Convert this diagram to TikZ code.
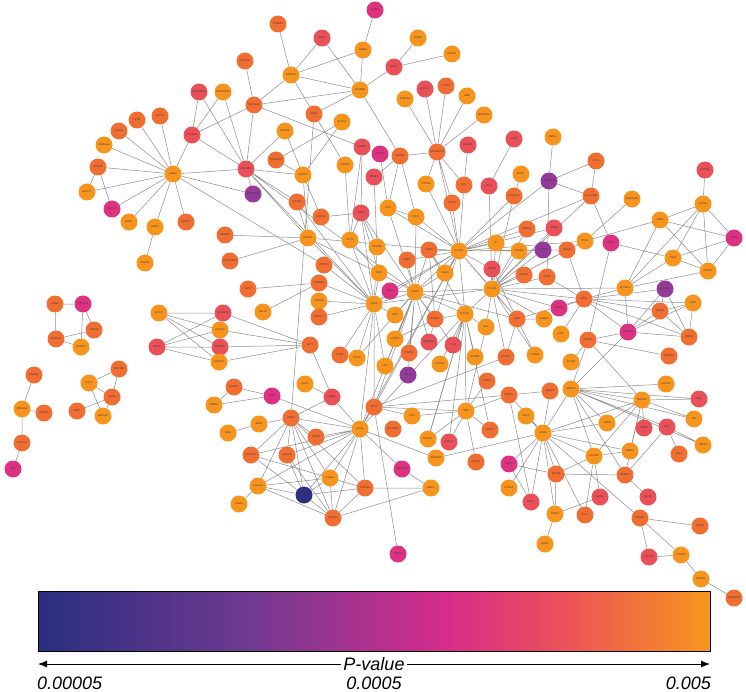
\documentclass[tikz,border=0pt]{standalone}
\usepackage{fontspec}
\setmainfont{Liberation Sans}
\usetikzlibrary{arrows.meta, backgrounds}
\definecolor{pvorange}{RGB}{247, 148, 30}
\definecolor{pvamber}{RGB}{241, 110, 50}
\definecolor{pvred}{RGB}{233, 80, 88}
\definecolor{pvpink}{RGB}{221, 50, 128}
\definecolor{pvpurple}{RGB}{148, 58, 152}
\definecolor{pvnavy}{RGB}{44, 48, 128}
\definecolor{barnavy}{RGB}{42, 46, 128}
\definecolor{barviolet}{RGB}{112, 58, 145}
\definecolor{barmagenta}{RGB}{214, 44, 140}
\definecolor{barcoral}{RGB}{236, 82, 88}
\definecolor{barorange}{RGB}{247, 150, 30}
\definecolor{edgegray}{RGB}{140, 140, 140}
\definecolor{labelgray}{RGB}{55, 55, 55}

\begin{document}
\begin{tikzpicture}[x=1pt, y=-1pt,
    gene/.style={circle, minimum size=17pt, inner sep=0pt, text=labelgray, font=\fontsize{2.6}{3}\selectfont},
    edge/.style={draw=edgegray, line width=0.5pt}]
    \useasboundingbox (0,0) rectangle (746,692);

    % Glutamate receptors and calcium channels
    \node[gene, fill=pvpink] (grid2) at (375,10) {GRID2};
    \node[gene, fill=pvamber] (dlgap1) at (278,24) {DLGAP1};
    \node[gene, fill=pvred] (grik4) at (322,38) {GRIK4};
    \node[gene, fill=pvorange] (gria4) at (363,50) {GRIA4};
    \node[gene, fill=pvamber] (abcc8) at (245,61) {ABCC8};
    \node[gene, fill=pvorange] (grin2a) at (291,75) {GRIN2A};
    \node[gene, fill=pvorange] (grin2b) at (360,90) {GRIN2B};
    \node[gene, fill=pvred] (cacna2d1) at (199,92) {CACNA2D1};
    \node[gene, fill=pvorange] (cacna2d3) at (223,92) {CACNA2D3};
    \node[gene, fill=pvamber] (cacna1c) at (254,105) {CACNA1C};
    \node[gene, fill=pvamber] (dab1) at (314,114) {DAB1};
    \node[gene, fill=pvorange] (alms1) at (342,122) {ALMS1};
    \node[gene, fill=pvred] (cacnb2) at (192,135) {CACNB2};
    \node[gene, fill=pvorange] (pds5a) at (285,131) {PDS5A};
    \node[gene, fill=pvred] (robo1) at (362,147) {ROBO1};
    \node[gene, fill=pvamber] (tubgcp2) at (276,160) {TUBGCP2};
    \node[gene, fill=pvred] (ppp2r5e) at (246,169) {PPP2R5E};
    \node[gene, fill=pvorange] (clasp1) at (303,175) {CLASP1};
    \node[gene, fill=pvorange] (map1b) at (345,165) {MAP1B};
    \node[gene, fill=pvred] (arap2) at (374,177) {ARAP2};
    \node[gene, fill=pvpink] (dock1) at (380,154) {DOCK1};

    % Rho GEF group
    \node[gene, fill=pvorange] (nrgn) at (418,38) {NRGN};
    \node[gene, fill=pvorange] (prkg1) at (452,54) {PRKG1};
    \node[gene, fill=pvred] (nrg1) at (394,67) {NRG1};
    \node[gene, fill=pvred] (mcf2l) at (425,89) {MCF2L};
    \node[gene, fill=pvamber] (cyth2) at (446,86) {CYTH2};
    \node[gene, fill=pvorange] (fam13a) at (405,99) {FAM13A};
    \node[gene, fill=pvorange] (abr) at (467,96) {ABR};
    \node[gene, fill=pvorange] (arhgef3) at (484,115) {ARHGEF3};
    \node[gene, fill=pvamber] (arhgef10) at (437,152) {ARHGEF10};
    \node[gene, fill=pvamber] (ablim2) at (400,156) {ABLIM2};
    \node[gene, fill=pvred] (daam1) at (468,145) {DAAM1};
    \node[gene, fill=pvred] (stac) at (514,139) {STAC};
    \node[gene, fill=pvorange] (obsl1) at (553,137) {OBSL1};
    \node[gene, fill=pvamber] (klc1) at (596,161) {KLC1};
    \node[gene, fill=pvred] (cntn4) at (705,170) {CNTN4};
    \node[gene, fill=pvorange] (rgs7) at (521,174) {RGS7};
    \node[gene, fill=pvpurple] (hladrb1) at (549,181) {HLA-DRB1};
    \node[gene, fill=pvorange] (pitpna) at (426,184) {PITPNA};
    \node[gene, fill=pvamber] (evl) at (464,185) {EVL};
    \node[gene, fill=pvred] (lhx1) at (489,186) {LHX1};
    \node[gene, fill=pvamber] (pip5k1a) at (514,196) {PIP5K1A};
    \node[gene, fill=pvamber] (hladqb1) at (591,196) {HLA-DQB1};

    % G protein group
    \node[gene, fill=pvamber] (mc1r) at (160,116) {MC1R};
    \node[gene, fill=pvamber] (ppr3) at (137,120) {PPR3};
    \node[gene, fill=pvamber] (cxhr1) at (119,131) {CXHR1};
    \node[gene, fill=pvorange] (adra1a) at (104,145) {ADRA1A};
    \node[gene, fill=pvamber] (adcy8) at (98,167) {ADCY8};
    \node[gene, fill=pvorange] (gng4) at (173,174) {GNG4};
    \node[gene, fill=pvorange] (adcy9) at (87,192) {ADCY9};
    \node[gene, fill=pvpink] (adcy2) at (112,209) {ADCY2};
    \node[gene, fill=pvorange] (grm7) at (129,222) {GRM7};
    \node[gene, fill=pvorange] (lpar1) at (155,227) {LPAR1};
    \node[gene, fill=pvamber] (prex1) at (186,222) {PREX1};
    \node[gene, fill=pvorange] (pde1b) at (145,263) {PDE1B};
    \node[gene, fill=pvpurple] (gabrg3) at (253,194) {GABRG3};

    % Centre
    \node[gene, fill=pvamber] (pik3r1) at (297,202) {PIK3R1};
    \node[gene, fill=pvamber] (kif21b) at (321,217) {KIF21B};
    \node[gene, fill=pvred] (rgs6) at (361,213) {RGS6};
    \node[gene, fill=pvamber] (arrb1) at (225,235) {ARRB1};
    \node[gene, fill=pvorange] (rap2a) at (308,238) {RAP2A};
    \node[gene, fill=pvorange] (slit2) at (350,240) {SLIT2};
    \node[gene, fill=pvamber] (rap1gap2) at (230,261) {RAP1GAP2};
    \node[gene, fill=pvamber] (ptprd) at (324,265) {PTPRD};
    \node[gene, fill=pvorange] (dscam) at (377,247) {DSCAM};
    \node[gene, fill=pvamber] (plxna4) at (319,283) {PLXNA4};
    \node[gene, fill=pvamber] (nrp2) at (248,289) {NRP2};
    \node[gene, fill=pvorange] (plxna2) at (319,301) {PLXNA2};
    \node[gene, fill=pvorange] (celf2) at (263,312) {CELF2};
    \node[gene, fill=pvamber] (dock3) at (319,317) {DOCK3};
    \node[gene, fill=pvorange] (pak3) at (374,304) {PAK3};
    \node[gene, fill=pvorange] (top1) at (379,273) {TOP1};
    \node[gene, fill=pvamber] (ext1) at (310,345) {EXT1};
    \node[gene, fill=pvamber] (utrn) at (340,355) {UTRN};
    \node[gene, fill=pvorange] (mylk) at (357,358) {MYLK};
    \node[gene, fill=pvorange] (dcc) at (388,208) {DCC};
    \node[gene, fill=pvorange] (trio) at (416,217) {TRIO};
    \node[gene, fill=pvamber] (dlc1) at (452,203) {DLC1};
    \node[gene, fill=pvamber] (prkcq) at (527,229) {PRKCQ};
    \node[gene, fill=pvred] (dnm3) at (554,228) {DNM3};
    \node[gene, fill=pvamber] (sos2) at (429,250) {SOS2};
    \node[gene, fill=pvorange] (plcg1) at (459,251) {PLCG1};
    \node[gene, fill=pvorange] (il7) at (496,243) {IL7};
    \node[gene, fill=pvorange] (pla2g6) at (519,251) {PLA2G6};
    \node[gene, fill=pvpurple] (tyro3) at (543,250) {TYRO3};
    \node[gene, fill=pvamber] (dgkb) at (567,250) {DGKB};
    \node[gene, fill=pvamber] (abat) at (407,260) {ABAT};
    \node[gene, fill=pvorange] (nras) at (445,273) {NRAS};
    \node[gene, fill=pvred] (stat4) at (492,269) {STAT4};
    \node[gene, fill=pvamber] (rgs17) at (524,275) {RGS17};
    \node[gene, fill=pvamber] (cd19) at (547,277) {CD19};
    \node[gene, fill=pvpink] (pnk1) at (390,291) {PNK1};
    \node[gene, fill=pvorange] (stat3) at (415,292) {STAT3};
    \node[gene, fill=pvorange] (plcg2) at (492,289) {PLCG2};
    \node[gene, fill=pvorange] (sgms1) at (544,319) {SGMS1};
    \node[gene, fill=pvamber] (jak2) at (517,319) {JAK2};
    \node[gene, fill=pvorange] (fgfr1) at (465,314) {FGFR1};
    \node[gene, fill=pvamber] (rasa1) at (435,319) {RASA1};
    \node[gene, fill=pvorange] (gck) at (395,315) {GCK};
    \node[gene, fill=pvorange] (axl) at (486,327) {AXL};
    \node[gene, fill=pvorange] (nlrc5) at (395,339) {NLRC5};
    \node[gene, fill=pvred] (znf280d) at (429,342) {ZNF280D};
    \node[gene, fill=pvred] (tlk2) at (453,345) {TLK2};
    \node[gene, fill=pvamber] (pdzd2) at (409,353) {PDZD2};
    \node[gene, fill=pvorange] (epha5) at (475,357) {EPHA5};
    \node[gene, fill=pvorange] (epha3) at (440,364) {EPHA3};
    \node[gene, fill=pvamber] (runx1) at (506,357) {RUNX1};
    \node[gene, fill=pvorange] (ptpre) at (535,355) {PTPRE};
    \node[gene, fill=pvorange] (ltk) at (385,366) {LTK};
    \node[gene, fill=pvpurple] (nell2) at (408,375) {NELL2};
    \node[gene, fill=pvpink] (sash1) at (559,308) {SASH1};
    \node[gene, fill=pvorange] (usp7) at (561,334) {USP7};
    \node[gene, fill=pvorange] (auts2) at (571,362) {AUTS2};

    % Ankyrin / spectrin group
    \node[gene, fill=pvorange] (adora2b) at (632,199) {ADORA2B};
    \node[gene, fill=pvorange] (nfasc) at (703,204) {NFASC};
    \node[gene, fill=pvorange] (ank3) at (660,220) {ANK3};
    \node[gene, fill=pvorange] (itpr2) at (585,241) {ITPR2};
    \node[gene, fill=pvpink] (rps6) at (611,243) {RPS6};
    \node[gene, fill=pvpink] (sptb) at (734,238) {SPTB};
    \node[gene, fill=pvorange] (ank2) at (673,258) {ANK2};
    \node[gene, fill=pvorange] (scn7a) at (708,271) {SCN7A};
    \node[gene, fill=pvorange] (sptbn1) at (625,288) {SPTBN1};
    \node[gene, fill=pvpurple] (iqgap1) at (665,289) {IQGAP1};
    \node[gene, fill=pvamber] (cblb) at (584,299) {CBLB};
    \node[gene, fill=pvorange] (asb7) at (693,303) {ASB7};
    \node[gene, fill=pvamber] (park2) at (660,311) {PARK2};
    \node[gene, fill=pvpink] (zbtb16) at (628,332) {ZBTB16};
    \node[gene, fill=pvamber] (trim9) at (689,337) {TRIM9};
    \node[gene, fill=pvamber] (hdac4) at (588,340) {HDAC4};
    \node[gene, fill=pvamber] (hecw2) at (669,356) {HECW2};

    % Small separate groups
    \node[gene, fill=pvamber] (cdh4) at (55,304) {CDH4};
    \node[gene, fill=pvpink] (ctnna2) at (83,304) {CTNNA2};
    \node[gene, fill=pvamber] (cdh13) at (94,330) {CDH13};
    \node[gene, fill=pvamber] (ctnna3) at (56,339) {CTNNA3};
    \node[gene, fill=pvorange] (cdh12) at (81,347) {CDH12};
    \node[gene, fill=pvorange] (gpc5) at (159,313) {GPC5};
    \node[gene, fill=pvred] (gpc6) at (157,347) {GPC6};
    \node[gene, fill=pvred] (b3galt2) at (223,313) {B3GALT2};
    \node[gene, fill=pvorange] (gxylt2) at (220,330) {GXYLT2};
    \node[gene, fill=pvred] (b3gat1) at (220,347) {B3GAT1};
    \node[gene, fill=pvorange] (hs3st2) at (219,362) {HS3ST2};
    \node[gene, fill=pvamber] (unc13b) at (119,369) {UNC13B};
    \node[gene, fill=pvorange] (syt1) at (89,383) {SYT1};
    \node[gene, fill=pvamber] (rims1) at (112,397) {RIMS1};
    \node[gene, fill=pvamber] (src1) at (77,411) {SRC1};
    \node[gene, fill=pvorange] (unc13c) at (103,416) {UNC13C};
    \node[gene, fill=pvamber] (cab39l) at (34,375) {CAB39L};
    \node[gene, fill=pvorange] (prkag2) at (22,409) {PRKAG2};
    \node[gene, fill=pvamber] (rptor) at (44,413) {RPTOR};
    \node[gene, fill=pvamber] (slc2a4) at (22,443) {SLC2A4};
    \node[gene, fill=pvpink] (hk2) at (13,469) {HK2};

    % Integrins and collagens
    \node[gene, fill=pvamber] (myo5c) at (234,387) {MYO5C};
    \node[gene, fill=pvpink] (tpm1) at (272,396) {TPM1};
    \node[gene, fill=pvorange] (tmod1) at (214,405) {TMOD1};
    \node[gene, fill=pvorange] (sv2c) at (305,384) {SV2C};
    \node[gene, fill=pvred] (lama1) at (332,397) {LAMA1};
    \node[gene, fill=pvamber] (ets1) at (374,407) {ETS1};
    \node[gene, fill=pvamber] (itga4) at (291,418) {ITGA4};
    \node[gene, fill=pvorange] (jam2) at (259,424) {JAM2};
    \node[gene, fill=pvorange] (mag) at (228,433) {MAG};
    \node[gene, fill=pvamber] (thbs2) at (316,437) {THBS2};
    \node[gene, fill=pvorange] (itga1) at (360,429) {ITGA1};
    \node[gene, fill=pvamber] (col13a1) at (251,455) {COL13A1};
    \node[gene, fill=pvamber] (col6a2) at (287,455) {COL6A2};
    \node[gene, fill=pvorange] (itgbl1) at (330,478) {ITGBL1};
    \node[gene, fill=pvorange] (col4a2) at (258,486) {COL4A2};
    \node[gene, fill=pvnavy] (lamc3) at (304,495) {LAMC3};
    \node[gene, fill=pvamber] (col5a3) at (365,488) {COL5A3};
    \node[gene, fill=pvorange] (kazn) at (239,504) {KAZN};
    \node[gene, fill=pvamber] (col5a1) at (333,518) {COL5A1};

    % Growth factors and nuclear receptors
    \node[gene, fill=pvamber] (ptprg) at (487,381) {PTPRG};
    \node[gene, fill=pvamber] (epas1) at (509,395) {EPAS1};
    \node[gene, fill=pvamber] (cebpz) at (550,391) {CEBPZ};
    \node[gene, fill=pvorange] (plg) at (412,416) {PLG};
    \node[gene, fill=pvorange] (tek) at (466,411) {TEK};
    \node[gene, fill=pvorange] (scp2) at (526,416) {SCP2};
    \node[gene, fill=pvorange] (rxra) at (543,433) {RXRA};
    \node[gene, fill=pvamber] (slc38a3) at (393,429) {SLC38A3};
    \node[gene, fill=pvorange] (pdgfc) at (428,439) {PDGFC};
    \node[gene, fill=pvred] (fgf12) at (449,442) {FGF12};
    \node[gene, fill=pvamber] (fgf14) at (490,430) {FGF14};
    \node[gene, fill=pvorange] (sorbs2) at (436,458) {SORBS2};
    \node[gene, fill=pvamber] (ptprk) at (476,462) {PTPRK};
    \node[gene, fill=pvpink] (ghsr) at (509,464) {GHSR};
    \node[gene, fill=pvamber] (nr5a2) at (556,474) {NR5A2};
    \node[gene, fill=pvpink] (col24a1) at (402,469) {COL24A1};
    \node[gene, fill=pvorange] (bmp1) at (431,488) {BMP1};
    \node[gene, fill=pvorange] (foxp2) at (509,488) {FOXP2};
    \node[gene, fill=pvred] (esr1) at (531,502) {ESR1};
    \node[gene, fill=pvorange] (arntl) at (555,514) {ARNTL};
    \node[gene, fill=pvorange] (rorc) at (545,544) {RORC};
    \node[gene, fill=pvpink] (ecel1) at (398,554) {ECEL1};
    \node[gene, fill=pvorange] (smad3) at (571,389) {SMAD3};
    \node[gene, fill=pvorange] (ncor2) at (642,400) {NCOR2};
    \node[gene, fill=pvorange] (foxo1) at (666,384) {FOXO1};
    \node[gene, fill=pvred] (mkl2) at (699,399) {MKL2};
    \node[gene, fill=pvorange] (ski) at (694,419) {SKI};
    \node[gene, fill=pvorange] (thrb) at (607,423) {THRB};
    \node[gene, fill=pvred] (nipbl) at (644,428) {NIPBL};
    \node[gene, fill=pvred] (lef1) at (667,427) {LEF1};
    \node[gene, fill=pvorange] (hells) at (703,445) {HELLS};
    \node[gene, fill=pvamber] (tle1) at (679,454) {TLE1};
    \node[gene, fill=pvorange] (ncoa2) at (594,456) {NCOA2};
    \node[gene, fill=pvorange] (med27) at (630,451) {MED27};
    \node[gene, fill=pvamber] (smad7) at (625,475) {SMAD7};
    \node[gene, fill=pvred] (rora) at (600,497) {RORA};
    \node[gene, fill=pvred] (sox5) at (648,497) {SOX5};
    \node[gene, fill=pvamber] (nfil3) at (585,515) {NFIL3};
    \node[gene, fill=pvamber] (srrm1) at (640,518) {SRRM1};
    \node[gene, fill=pvamber] (eif3h) at (700,526) {EIF3H};
    \node[gene, fill=pvred] (phlpp2) at (649,557) {PHLPP2};
    \node[gene, fill=pvorange] (ccar1) at (681,555) {CCAR1};
    \node[gene, fill=pvorange] (smyd2) at (701,579) {SMYD2};
    \node[gene, fill=pvamber] (smarcd1) at (734,598) {SMARCD1};

    % Interactions
    \begin{pgfonlayer}{background}
    \draw[edge] (dlgap1) -- (grin2a) (grik4) -- (grin2a) (grik4) -- (grin2b)
        (gria4) -- (grid2) (gria4) -- (grin2a) (gria4) -- (grin2b)
        (grin2a) -- (cacna1c) (grin2a) -- (grin2b) (grin2a) -- (dab1)
        (grin2b) -- (cacna1c) (grin2b) -- (dab1) (grin2b) -- (nrg1) (grin2b) -- (ablim2)
        (abcc8) -- (cacna1c) (cacna1c) -- (cacnb2) (cacna1c) -- (ppp2r5e) (cacna1c) -- (robo1)
        (cacna2d1) -- (cacnb2) (cacna2d1) -- (ppp2r5e) (cacna2d3) -- (cacnb2) (cacna2d3) -- (ppp2r5e)
        (cacnb2) -- (ppp2r5e) (dab1) -- (map1b) (dab1) -- (itga4)
        (alms1) -- (clasp1) (alms1) -- (tubgcp2) (pds5a) -- (clasp1) (pds5a) -- (ppp2r5e)
        (tubgcp2) -- (clasp1) (ppp2r5e) -- (clasp1) (ppp2r5e) -- (pik3r1) (ppp2r5e) -- (rap2a)
        (ppp2r5e) -- (pak3) (ppp2r5e) -- (stat3) (map1b) -- (slit2)
        (robo1) -- (slit2) (robo1) -- (rgs6) (clasp1) -- (kif21b) (clasp1) -- (rap2a)
        (arap2) -- (ablim2) (arap2) -- (dscam) (dock1) -- (dcc);
    \draw[edge] (nrgn) -- (nrg1) (prkg1) -- (nrg1)
        (arhgef10) -- (fam13a) (arhgef10) -- (mcf2l) (arhgef10) -- (cyth2) (arhgef10) -- (abr)
        (arhgef10) -- (arhgef3) (arhgef10) -- (ablim2) (arhgef10) -- (pitpna) (arhgef10) -- (evl)
        (arhgef10) -- (plcg1) (arhgef10) -- (dlc1) (ablim2) -- (dcc) (ablim2) -- (trio)
        (daam1) -- (evl) (stac) -- (lhx1) (obsl1) -- (hladrb1) (rgs7) -- (pip5k1a)
        (klc1) -- (hladrb1) (klc1) -- (hladqb1) (cntn4) -- (nfasc)
        (hladrb1) -- (plcg1) (hladrb1) -- (hladqb1) (hladrb1) -- (cd19)
        (lhx1) -- (plcg2) (pitpna) -- (plcg1) (evl) -- (plcg1);
    \draw[edge] (gng4) -- (mc1r) (gng4) -- (ppr3) (gng4) -- (cxhr1) (gng4) -- (adra1a)
        (gng4) -- (adcy8) (gng4) -- (adcy9) (gng4) -- (adcy2) (gng4) -- (grm7)
        (gng4) -- (lpar1) (gng4) -- (prex1) (gng4) -- (cacnb2) (gng4) -- (ppp2r5e)
        (gng4) -- (gabrg3) (gng4) -- (ptprd) (adcy8) -- (adcy9) (adcy8) -- (adcy2)
        (lpar1) -- (pde1b) (gabrg3) -- (ppp2r5e);
    \draw[edge] (pik3r1) -- (rap2a) (pik3r1) -- (pak3) (kif21b) -- (rgs6)
        (rgs6) -- (pak3) (rgs6) -- (slit2) (rgs6) -- (dscam) (rgs6) -- (stat3) (rgs6) -- (top1)
        (arrb1) -- (rap2a) (rap1gap2) -- (rap2a) (rap2a) -- (top1) (rap2a) -- (pak3) (rap2a) -- (plcg1)
        (slit2) -- (pak3) (slit2) -- (top1) (ptprd) -- (pak3)
        (nrp2) -- (plxna4) (celf2) -- (plxna4) (plxna4) -- (pak3) (plxna2) -- (pak3) (dock3) -- (pak3)
        (ext1) -- (b3galt2) (ext1) -- (gxylt2) (ext1) -- (b3gat1) (ext1) -- (hs3st2) (ext1) -- (lama1)
        (gpc5) -- (b3galt2) (gpc5) -- (gxylt2) (gpc5) -- (b3gat1) (gpc5) -- (hs3st2)
        (gpc6) -- (b3galt2) (gpc6) -- (gxylt2) (gpc6) -- (b3gat1) (gpc6) -- (hs3st2)
        (utrn) -- (pak3) (mylk) -- (pak3) (mylk) -- (stat3)
        (pak3) -- (stat3) (pak3) -- (pnk1) (pak3) -- (plcg1) (pak3) -- (plcg2) (pak3) -- (top1)
        (pak3) -- (gck) (pak3) -- (dscam) (dcc) -- (trio) (dcc) -- (stat3) (dcc) -- (plcg1)
        (trio) -- (plcg1) (trio) -- (stat3) (dlc1) -- (plcg1)
        (pip5k1a) -- (plcg1) (pip5k1a) -- (plcg2) (prkcq) -- (plcg1) (prkcq) -- (plcg2)
        (dnm3) -- (plcg2) (dnm3) -- (plcg1);
    \draw[edge] (sos2) -- (plcg1) (sos2) -- (stat3) (sos2) -- (nras) (sos2) -- (rasa1) (sos2) -- (fgfr1)
        (plcg1) -- (il7) (plcg1) -- (pla2g6) (plcg1) -- (tyro3) (plcg1) -- (stat4) (plcg1) -- (plcg2)
        (plcg1) -- (nras) (plcg1) -- (fgfr1) (plcg1) -- (rasa1) (plcg1) -- (stat3) (plcg1) -- (pnk1)
        (plcg1) -- (jak2) (plcg1) -- (hladqb1) (plcg1) -- (dgkb) (plcg1) -- (itpr2) (plcg1) -- (abat)
        (il7) -- (plcg2) (pla2g6) -- (plcg2) (tyro3) -- (plcg2) (stat4) -- (plcg2) (stat4) -- (jak2)
        (rgs17) -- (plcg2) (cd19) -- (plcg2) (pnk1) -- (stat3) (top1) -- (stat3) (abat) -- (stat3)
        (stat3) -- (jak2) (stat3) -- (plcg2) (stat3) -- (fgfr1) (stat3) -- (gck) (stat3) -- (nlrc5)
        (stat3) -- (rasa1) (stat3) -- (nras) (plcg2) -- (fgfr1) (plcg2) -- (jak2) (plcg2) -- (axl)
        (plcg2) -- (sash1) (plcg2) -- (cblb) (plcg2) -- (sgms1) (plcg2) -- (dgkb) (plcg2) -- (itpr2)
        (jak2) -- (sgms1) (jak2) -- (ptpre) (jak2) -- (runx1)
        (fgfr1) -- (rasa1) (fgfr1) -- (axl) (fgfr1) -- (epha5) (fgfr1) -- (epha3) (fgfr1) -- (tlk2)
        (fgfr1) -- (fgf12) (fgfr1) -- (fgf14) (fgfr1) -- (pdgfc)
        (rasa1) -- (znf280d) (rasa1) -- (nlrc5) (axl) -- (tek) (znf280d) -- (stat3) (tlk2) -- (stat3)
        (pdzd2) -- (stat3) (runx1) -- (plcg2) (ptpre) -- (plcg2) (ltk) -- (pak3) (ltk) -- (stat3)
        (nell2) -- (stat3) (sash1) -- (cblb) (usp7) -- (cblb) (auts2) -- (hdac4);
    \draw[edge] (hladqb1) -- (rps6) (hladqb1) -- (plcg2) (adora2b) -- (itpr2)
        (nfasc) -- (ank3) (nfasc) -- (ank2) (nfasc) -- (scn7a) (nfasc) -- (sptbn1) (nfasc) -- (sptb)
        (ank3) -- (sptb) (ank3) -- (sptbn1) (ank3) -- (scn7a) (ank3) -- (itpr2)
        (sptb) -- (ank2) (sptb) -- (scn7a) (ank2) -- (sptbn1) (ank2) -- (rps6) (ank2) -- (scn7a)
        (scn7a) -- (sptbn1) (sptbn1) -- (cblb) (sptbn1) -- (zbtb16) (sptbn1) -- (plcg2)
        (iqgap1) -- (park2) (iqgap1) -- (zbtb16) (iqgap1) -- (trim9) (iqgap1) -- (cblb)
        (asb7) -- (park2) (asb7) -- (trim9) (asb7) -- (cblb) (asb7) -- (zbtb16)
        (park2) -- (cblb) (park2) -- (zbtb16) (park2) -- (trim9)
        (cblb) -- (trim9) (cblb) -- (zbtb16) (cblb) -- (dgkb) (cblb) -- (jak2) (cblb) -- (cd19)
        (hdac4) -- (zbtb16) (hdac4) -- (hecw2) (hdac4) -- (rps6) (hdac4) -- (smad3) (hdac4) -- (ncor2)
        (zbtb16) -- (trim9) (zbtb16) -- (smad3);
    \draw[edge] (cdh4) -- (ctnna2) (cdh4) -- (ctnna3) (ctnna2) -- (cdh13) (ctnna2) -- (cdh12)
        (ctnna3) -- (cdh13) (ctnna3) -- (cdh12)
        (syt1) -- (unc13b) (unc13b) -- (rims1) (syt1) -- (rims1) (syt1) -- (unc13c)
        (rims1) -- (src1) (rims1) -- (unc13c)
        (cab39l) -- (prkag2) (prkag2) -- (rptor) (prkag2) -- (slc2a4) (slc2a4) -- (hk2);
    \draw[edge] (myo5c) -- (tmod1) (myo5c) -- (tpm1) (tmod1) -- (tpm1) (tpm1) -- (itga1)
        (sv2c) -- (lama1) (lama1) -- (itga4) (lama1) -- (itga1)
        (itga4) -- (jam2) (itga4) -- (thbs2) (itga4) -- (col13a1) (itga4) -- (col6a2) (itga4) -- (col4a2)
        (itga4) -- (lamc3) (itga4) -- (itgbl1) (itga4) -- (col5a1) (itga4) -- (col5a3) (itga4) -- (itga1)
        (jam2) -- (mag)
        (itga1) -- (thbs2) (itga1) -- (col13a1) (itga1) -- (col6a2) (itga1) -- (itgbl1) (itga1) -- (col4a2)
        (itga1) -- (lamc3) (itga1) -- (col5a3) (itga1) -- (col5a1) (itga1) -- (ets1) (itga1) -- (sorbs2)
        (itga1) -- (pak3) (itga1) -- (stat3) (itga1) -- (plcg1) (itga1) -- (fgfr1)
        (col13a1) -- (itgbl1) (col13a1) -- (lamc3) (col4a2) -- (kazn) (col4a2) -- (itgbl1)
        (col4a2) -- (col5a1) (col4a2) -- (lamc3) (col6a2) -- (lamc3) (col6a2) -- (col5a1)
        (itgbl1) -- (lamc3) (itgbl1) -- (col5a1) (itgbl1) -- (col5a3)
        (lamc3) -- (col5a3) (lamc3) -- (col5a1) (col5a1) -- (col5a3) (col5a1) -- (bmp1) (col5a3) -- (bmp1);
    \draw[edge] (ets1) -- (plg) (ets1) -- (tek) (ets1) -- (epas1) (ets1) -- (pak3) (ets1) -- (stat3)
        (ets1) -- (plcg1) (ets1) -- (ecel1) (ets1) -- (runx1) (plg) -- (tek)
        (tek) -- (ptprg) (tek) -- (pdgfc) (tek) -- (fgf12) (tek) -- (fgf14) (tek) -- (ptprk)
        (tek) -- (epas1) (tek) -- (fgfr1) (pdgfc) -- (fgfr1) (sorbs2) -- (rxra)
        (col24a1) -- (bmp1) (col24a1) -- (itga1)
        (epas1) -- (esr1) (epas1) -- (rxra) (epas1) -- (cebpz)
        (rxra) -- (cebpz) (rxra) -- (scp2) (rxra) -- (ghsr) (rxra) -- (foxp2) (rxra) -- (nr5a2)
        (rxra) -- (smad3) (rxra) -- (ncor2) (rxra) -- (ncoa2) (rxra) -- (thrb) (rxra) -- (med27)
        (rxra) -- (arntl) (rxra) -- (esr1) (rxra) -- (srrm1) (rxra) -- (nfil3)
        (ghsr) -- (esr1) (ghsr) -- (nr5a2) (arntl) -- (rorc) (arntl) -- (rora) (arntl) -- (nr5a2)
        (smad3) -- (foxo1) (smad3) -- (ncor2) (smad3) -- (mkl2) (smad3) -- (ski) (smad3) -- (ncoa2)
        (smad3) -- (smad7) (smad3) -- (thrb) (smad3) -- (lef1) (smad3) -- (hells)
        (ncor2) -- (mkl2) (ncor2) -- (ski) (ncor2) -- (thrb) (ncor2) -- (nipbl) (ncor2) -- (ncoa2)
        (ncor2) -- (med27) (ncor2) -- (smad7)
        (lef1) -- (tle1) (lef1) -- (hells) (lef1) -- (smad7)
        (ncoa2) -- (med27) (ncoa2) -- (rora) (ncoa2) -- (nr5a2) (smad7) -- (sox5) (smad7) -- (nr5a2)
        (srrm1) -- (eif3h) (srrm1) -- (phlpp2) (srrm1) -- (ccar1) (phlpp2) -- (ccar1)
        (nfil3) -- (ncoa2) (ccar1) -- (smyd2) (smyd2) -- (smarcd1);
    \end{pgfonlayer}

    % Colour scale
    \shade[left color=barnavy, right color=barviolet] (38,591) rectangle (250,651);
    \shade[left color=barviolet, right color=barmagenta] (249.5,591) rectangle (445,651);
    \shade[left color=barmagenta, right color=barcoral] (444.5,591) rectangle (565,651);
    \shade[left color=barcoral, right color=barorange] (564.5,591) rectangle (710,651);
    \draw[line width=0.9pt] (38,591) rectangle (710,651);

    \coordinate (scalel) at (38,664);
    \coordinate (scaler) at (710,664);
    \draw[{Latex[length=9pt, width=7pt]}-{Latex[length=9pt, width=7pt]}, line width=0.9pt] (scalel) -- (scaler);
    \node[fill=white, inner sep=2pt, font=\itshape\fontsize{18}{21}\selectfont] (pvalue) at (374,664) {P-value};
    \node[anchor=base west, inner sep=0pt, font=\itshape\fontsize{18}{21}\selectfont] (lowtick) at (37,689) {0.00005};
    \node[anchor=base, inner sep=0pt, font=\itshape\fontsize{18}{21}\selectfont] (midtick) at (374,689) {0.0005};
    \node[anchor=base east, inner sep=0pt, font=\itshape\fontsize{18}{21}\selectfont] (hightick) at (711,689) {0.005};
\end{tikzpicture}
\end{document}
